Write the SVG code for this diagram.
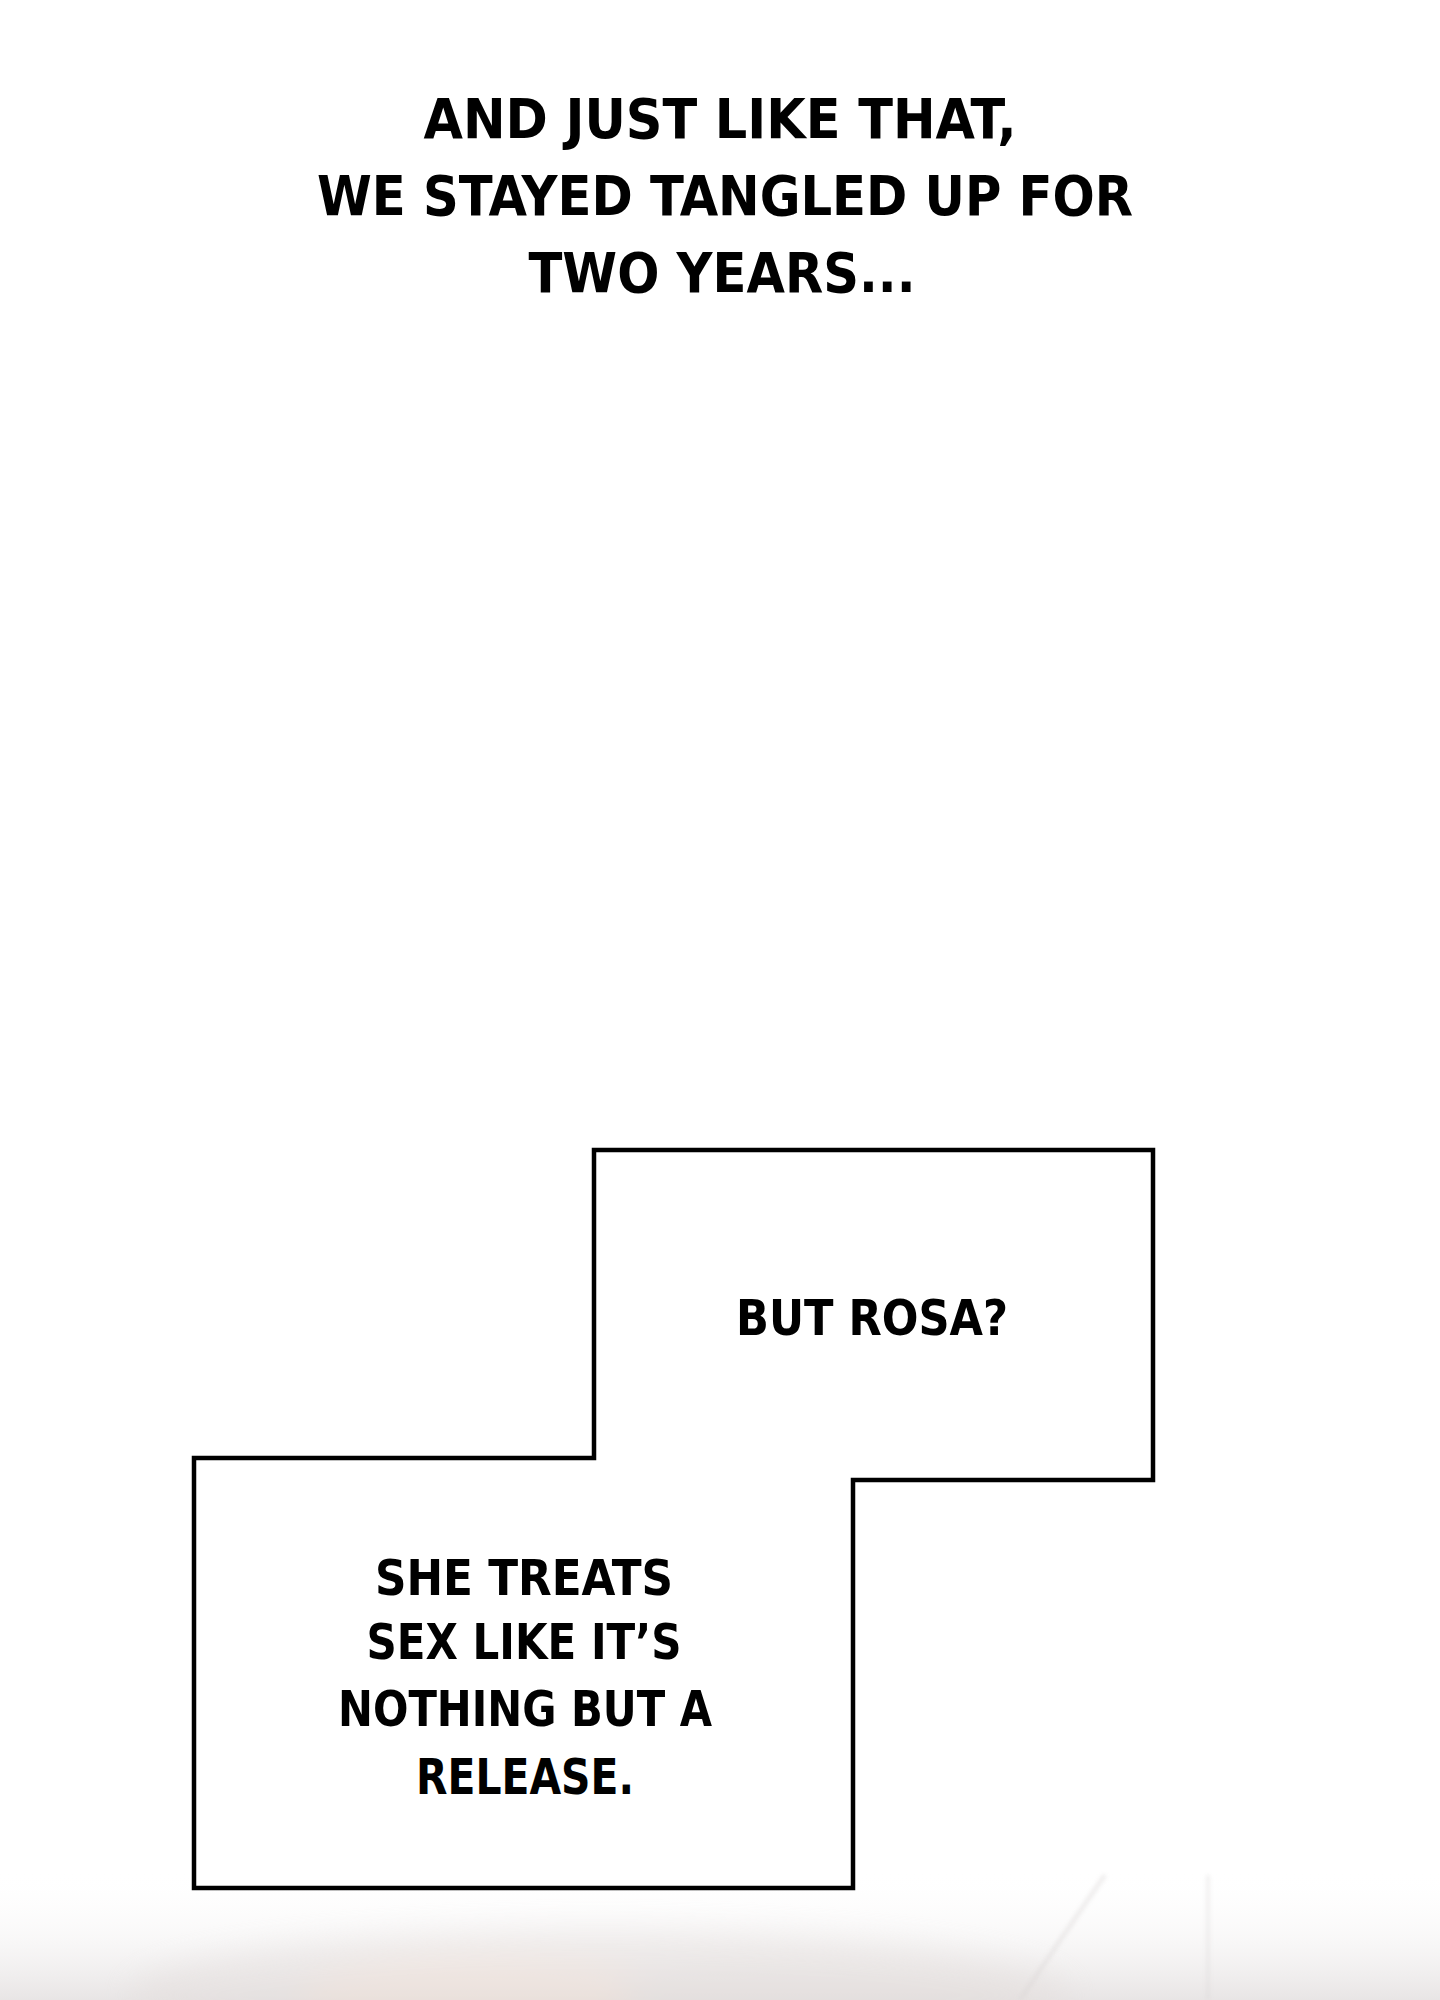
<svg xmlns="http://www.w3.org/2000/svg" width="1440" height="2000" viewBox="0 0 1440 2000">
<defs>
<style>
.t{font-family:"DejaVu Sans Condensed","DejaVu Sans","Liberation Sans",sans-serif;font-weight:bold;fill:#000;text-anchor:middle}
.t1{font-size:56px}
.t2{font-size:50px}
.box{fill:#fff;stroke:#000;stroke-width:4.5;stroke-linejoin:miter}
</style>
<linearGradient id="fade" x1="0" y1="0" x2="0" y2="1">
<stop offset="0" stop-color="#ffffff" stop-opacity="0"/>
<stop offset="1" stop-color="#e8e5e5" stop-opacity="1"/>
</linearGradient>
<filter id="blur" x="-20%" y="-50%" width="140%" height="200%"><feGaussianBlur stdDeviation="16"/></filter>
<filter id="blur2"><feGaussianBlur stdDeviation="2"/></filter>
</defs>
<rect x="0" y="0" width="1440" height="2000" fill="#ffffff"/>
<g id="background">
<rect x="0" y="1870" width="1440" height="130" fill="url(#fade)"/>
<g filter="url(#blur)" opacity="0.45">
<ellipse cx="600" cy="1995" rx="470" ry="65" fill="#e2dcda"/>
<ellipse cx="480" cy="2000" rx="180" ry="45" fill="#eddcd2"/>
<ellipse cx="820" cy="2000" rx="200" ry="45" fill="#e0d9d7"/>
</g>
<g filter="url(#blur2)" opacity="0.45">
<path d="M1020 2000 Q1060 1940 1105 1875" fill="none" stroke="#d8d4d4" stroke-width="4"/>
<line x1="1208" y1="1875" x2="1208" y2="2000" stroke="#d6d3d3" stroke-width="3"/>
</g>
</g>
<g id="caption">
<text class="t t1" x="720" y="138" textLength="593" lengthAdjust="spacingAndGlyphs">AND JUST LIKE THAT,</text>
<text class="t t1" x="725" y="215" textLength="816" lengthAdjust="spacingAndGlyphs">WE STAYED TANGLED UP FOR</text>
<text class="t t1" x="722" y="292" textLength="387" lengthAdjust="spacingAndGlyphs">TWO YEARS...</text>
</g>
<g id="narration-boxes">
<path class="box" d="M594 1150 H1153 V1480 H853 V1888 H194 V1458 H594 Z"/>
</g>
<g id="box-top">
<text class="t t2" x="872" y="1335" textLength="272" lengthAdjust="spacingAndGlyphs">BUT ROSA?</text>
</g>
<g id="box-bottom">
<text class="t t2" x="524" y="1595" textLength="298" lengthAdjust="spacingAndGlyphs">SHE TREATS</text>
<text class="t t2" x="524" y="1659" textLength="315" lengthAdjust="spacingAndGlyphs">SEX LIKE IT’S</text>
<text class="t t2" x="525" y="1726" textLength="374" lengthAdjust="spacingAndGlyphs">NOTHING BUT A</text>
<text class="t t2" x="525" y="1794" textLength="218" lengthAdjust="spacingAndGlyphs">RELEASE.</text>
</g>
</svg>
